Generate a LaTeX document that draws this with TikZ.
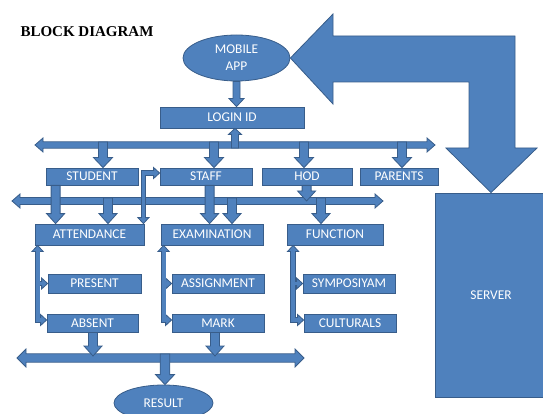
\documentclass[tikz,border=0pt]{standalone}
\usepackage{fontspec}
\setmainfont{Carlito}
\newfontfamily\headfont{Liberation Serif}
\usetikzlibrary{calc,shapes.geometric}
\definecolor{boxfill}{HTML}{4F81BD}
\definecolor{boxline}{HTML}{385D8A}
\tikzset{
  blkarr/.style={fill=boxfill,draw=boxline,line width=0.8pt,line join=miter},
  box/.style={rectangle,fill=boxfill,draw=boxline,line width=0.8pt,text=white,
    inner sep=0pt,font=\fontsize{13.4}{17}\selectfont},
  oval/.style={box,ellipse},
  tubeout/.style={draw=boxline,line width=5.4pt,line join=miter},
  tubein/.style={draw=boxfill,line width=3.8pt,line join=miter,shorten <=-1pt,shorten >=-1pt}
}
% block arrow: from, to, shaft half width, head half width, head length
\newcommand{\blk}[5]{\draw[blkarr] ($(#1)!#3!90:(#2)$) -- ($(#2)!#5!(#1)!#3!-90:(#1)$)
  -- ($(#2)!#5!(#1)!#4!-90:(#1)$) -- (#2) -- ($(#2)!#5!(#1)!#4!90:(#1)$)
  -- ($(#2)!#5!(#1)!#3!90:(#1)$) -- ($(#1)!#3!-90:(#2)$) -- cycle;}
% double block arrow
\newcommand{\dblk}[5]{\draw[blkarr] (#1) -- ($(#1)!#5!(#2)!#4!90:(#2)$)
  -- ($(#1)!#5!(#2)!#3!90:(#2)$) -- ($(#2)!#5!(#1)!#3!-90:(#1)$)
  -- ($(#2)!#5!(#1)!#4!-90:(#1)$) -- (#2) -- ($(#2)!#5!(#1)!#4!90:(#1)$)
  -- ($(#2)!#5!(#1)!#3!90:(#1)$) -- ($(#1)!#5!(#2)!#3!-90:(#2)$)
  -- ($(#1)!#5!(#2)!#4!-90:(#2)$) -- cycle;}
% small head: base, tip
\newcommand{\tipp}[2]{\draw[blkarr] ($(#1)!5.5pt!90:(#2)$) -- (#2) -- ($(#1)!5.5pt!-90:(#2)$) -- cycle;}
% side link: parent, x offset, upper child, lower child
\newcommand{\branch}[4]{%
  \coordinate (bt) at ($(#1.south west)+(#2,0)$);
  \coordinate (bb) at ($(bt)+(0,6)$);
  \coordinate (lt) at ($(#4.west)+(0,-3)$);
  \coordinate (lb) at ($(lt)+(-6,0)$);
  \coordinate (ut) at (#3.west);
  \coordinate (ub) at ($(ut)+(-6,0)$);
  \tipp{bb}{bt}\tipp{lb}{lt}\tipp{ub}{ut}
  \draw[tubeout] (bb) -- (bt |- lt) -- (lb) (bt |- ut) -- (ub);
  \draw[tubein] (bb) -- (bt |- lt) -- (lb);
  \draw[tubein] (bt |- ut) -- (ub);
}
\begin{document}
\begin{tikzpicture}[x=1pt,y=-1pt]
  \useasboundingbox (0,0) rectangle (543,414);
  \node[anchor=west,font=\headfont\bfseries\fontsize{15}{17}\selectfont] (title) at (17,32) {BLOCK DIAGRAM};

  \node[oval,minimum width=107pt,minimum height=46pt,align=center] (mobile) at (236.5,58) {MOBILE\\APP};
  \node[box,minimum width=144pt,minimum height=21pt] (login) at (232,117.5) {LOGIN ID};
  \node[box,minimum width=92pt,minimum height=17pt] (student) at (92,176.5) {STUDENT};
  \node[box,minimum width=92pt,minimum height=17pt] (staff) at (206,176.5) {STAFF};
  \node[box,minimum width=90pt,minimum height=17pt] (hod) at (307,176.5) {HOD};
  \node[box,minimum width=78pt,minimum height=17pt] (parents) at (399,176.5) {PARENTS};
  \node[box,minimum width=109pt,minimum height=21pt] (att) at (89.5,234.5) {ATTENDANCE};
  \node[box,minimum width=102pt,minimum height=21pt] (exam) at (212,234.5) {EXAMINATION};
  \node[box,minimum width=96pt,minimum height=21pt] (func) at (335,234.5) {FUNCTION};
  \node[box,minimum width=93pt,minimum height=19pt] (present) at (94.5,283.5) {PRESENT};
  \node[box,minimum width=91pt,minimum height=18pt] (absent) at (92.5,323) {ABSENT};
  \node[box,minimum width=92pt,minimum height=19pt] (assign) at (218,283.5) {ASSIGNMENT};
  \node[box,minimum width=92pt,minimum height=18pt] (mark) at (218,323) {MARK};
  \node[box,minimum width=92pt,minimum height=19pt] (symp) at (349,283.5) {SYMPOSIYAM};
  \node[box,minimum width=92pt,minimum height=18pt] (cult) at (350,323) {CULTURALS};
  \node[box,minimum width=112pt,minimum height=204pt] (server) at (491,295) {SERVER};
  \node[oval,minimum width=99pt,minimum height=36pt] (result) at (163.5,403) {RESULT};

  % buses
  \coordinate (b1l) at (35,145);  \coordinate (b1r) at (435,145);
  \coordinate (b2l) at (12,201);  \coordinate (b2r) at (383,201);
  \coordinate (b3l) at (17,358);  \coordinate (b3r) at (304,358);
  \dblk{b1l}{b1r}{3.2pt}{7pt}{8pt}
  \dblk{b2l}{b2r}{3.5pt}{7pt}{8pt}
  \dblk{b3l}{b3r}{4.2pt}{9pt}{9pt}

  % arrow feet
  \coordinate (u1) at (235,148);
  \coordinate (d1) at (103,142);  \coordinate (d2) at (214,142);
  \coordinate (d3) at (304,142);  \coordinate (d4) at (402,142);
  \coordinate (s1) at ($(student.south west)+(10,0)$);
  \coordinate (s2) at ($(staff.south west)+(50,0)$);
  \coordinate (s3) at ($(hod.south west)+(45,0)$);
  \coordinate (e1) at (108,198);  \coordinate (e2) at (232,198);  \coordinate (e3) at (321,198);
  \coordinate (r1) at (93,356);   \coordinate (r2) at (215,356);  \coordinate (r3) at (165,354);

  \blk{mobile.south}{mobile.south |- login.north}{3.5pt}{7.5pt}{8pt}
  \blk{u1}{u1 |- login.south}{3.5pt}{6.5pt}{6pt}
  \blk{d1}{d1 |- student.north}{4.5pt}{9.5pt}{10pt}
  \blk{d2}{d2 |- staff.north}{4.5pt}{9.5pt}{10pt}
  \blk{d3}{d3 |- hod.north}{4.5pt}{9.5pt}{10pt}
  \blk{d4}{d4 |- parents.north}{4.5pt}{9.5pt}{10pt}
  \blk{s1}{s1 |- att.north}{4.5pt}{9pt}{10pt}
  \blk{e1}{e1 |- att.north}{4.5pt}{9pt}{10pt}
  \blk{s2}{s2 |- exam.north}{4.5pt}{9pt}{10pt}
  \blk{e2}{e2 |- exam.north}{4.5pt}{9pt}{10pt}
  \blk{s3}{s3 |- b2l}{4.5pt}{9pt}{10pt}
  \blk{e3}{e3 |- func.north}{4.5pt}{9pt}{10pt}
  \blk{r1 |- absent.south}{r1}{4.5pt}{9pt}{10pt}
  \blk{r2 |- mark.south}{r2}{4.5pt}{9pt}{10pt}
  \blk{r3}{r3 |- result.north}{4.8pt}{9.5pt}{10pt}

  % side links
  \branch{att}{3}{present}{absent}
  \branch{exam}{3}{assign}{mark}
  \branch{func}{6.5}{symp}{cult}
  \coordinate (k1) at ($(staff.west)+(0,-3.5)$);
  \coordinate (k2) at ($(k1)+(-6,0)$);
  \coordinate (k3) at ($(att.north east)+(-1,0)$);
  \coordinate (k4) at ($(k3)+(0,-6)$);
  \tipp{k2}{k1}\tipp{k4}{k3}
  \draw[tubeout] (k2) -- (k4 |- k1) -- (k4);
  \draw[tubein] (k2) -- (k4 |- k1) -- (k4);

  % server link
  \draw[blkarr] (mobile.east) -- (333,14) -- (333,36) -- (515,36) -- (515,148) -- (537,148)
    -- (server.north) -- (446,148) -- (469,148) -- (469,82) -- (333,82) -- (333,104) -- cycle;
\end{tikzpicture}
\end{document}
